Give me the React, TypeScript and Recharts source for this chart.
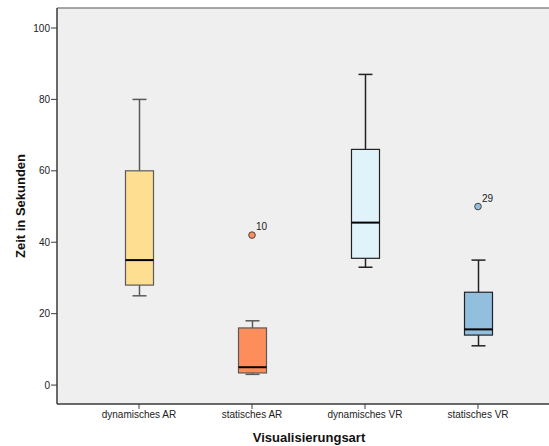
import React from 'react';
import {
  ComposedChart,
  Bar,
  Scatter,
  XAxis,
  YAxis,
  CartesianGrid,
  ReferenceLine,
} from 'recharts';

const categories = ['dynamisches AR', 'statisches AR', 'dynamisches VR', 'statisches VR'];
const whiskerLow = [25, 3, 33, 11];
const q1 = [28, 3.4, 35.5, 14];
const median = [35, 5, 45.5, 15.6];
const q3 = [60, 16, 66, 26];
const whiskerHigh = [80, 18, 87, 35];
const outliers = [null, 42, null, 50];
const outlierLabels = [null, '10', null, '29'];
const yTicks = [0, 20, 40, 60, 80, 100];

const boxFills = ['#fedf92', '#fd8d5b', '#e1f3fa', '#92bfdd'];
const boxStrokes = ['#5a5a5a', '#5a5a5a', '#222222', '#222222'];

const data = categories.map((name, i) => ({
  name,
  low: whiskerLow[i],
  q1: q1[i],
  median: median[i],
  q3: q3[i],
  high: whiskerHigh[i],
  outlier: outliers[i],
  label: outlierLabels[i],
  idx: i,
}));

const BoxShape = (props: any) => {
  const { x, y, width, height, payload } = props;
  const top = Math.min(y, y + height);
  const h = Math.abs(height);
  const unit = h / (payload.high - payload.low);
  const py = (v: number) => top + (payload.high - v) * unit;
  const cx = x + width / 2;
  const stroke = boxStrokes[payload.idx];
  const cap = 7;
  return (
    <g>
      <line x1={cx} x2={cx} y1={py(payload.high)} y2={py(payload.q3)} stroke={stroke} strokeWidth={1.5} />
      <line x1={cx} x2={cx} y1={py(payload.q1)} y2={py(payload.low)} stroke={stroke} strokeWidth={1.5} />
      <line x1={cx - cap} x2={cx + cap} y1={py(payload.high)} y2={py(payload.high)} stroke={stroke} strokeWidth={1.5} />
      <line x1={cx - cap} x2={cx + cap} y1={py(payload.low)} y2={py(payload.low)} stroke={stroke} strokeWidth={1.5} />
      <rect
        x={x}
        y={py(payload.q3)}
        width={width}
        height={py(payload.q1) - py(payload.q3)}
        fill={boxFills[payload.idx]}
        stroke={stroke}
        strokeWidth={1.2}
      />
      <line x1={x} x2={x + width} y1={py(payload.median)} y2={py(payload.median)} stroke="#000" strokeWidth={2} />
    </g>
  );
};

const OutlierShape = (props: any) => {
  const { cx, cy, payload } = props;
  if (payload.outlier == null || cy == null || isNaN(cy)) return null;
  return (
    <g>
      <circle cx={cx} cy={cy} r={3.3} fill={boxFills[payload.idx]} stroke="#444" strokeWidth={1} />
      <text x={cx + 4} y={cy - 5} fontSize={10} fill="#222" fontFamily="Liberation Sans, Arial, sans-serif">
        {payload.label}
      </text>
    </g>
  );
};

const App: React.FC = () => {
  return (
    <div style={{ position: 'fixed', left: 0, top: 0, width: 549, height: 446, overflow: 'hidden', background: '#fff' }}>
      <ComposedChart
        width={549}
        height={446}
        data={data}
        margin={{ top: 8, right: 0, bottom: 0, left: 0 }}
        style={{ fontFamily: 'Liberation Sans, Arial, sans-serif' }}
      >
        <CartesianGrid fill="#efefef" horizontal={false} vertical={false} />
        <ReferenceLine y={105.6} stroke="#8a8a8a" strokeWidth={1.5} />
        <XAxis
          dataKey="name"
          padding={{ left: 25.5, right: 14.5 }}
          height={42}
          tickSize={5}
          tickMargin={2}
          tick={{ fontSize: 10, fill: '#222' }}
          axisLine={{ stroke: '#3a3a3a', strokeWidth: 1.5 }}
          tickLine={{ stroke: '#3a3a3a' }}
          label={{ value: 'Visualisierungsart', position: 'insideBottom', offset: 4, dx: 6, fontSize: 13, fontWeight: 'bold', fill: '#111' }}
        />
        <YAxis
          type="number"
          domain={[-5.3, 105.6]}
          ticks={yTicks}
          width={57}
          tickSize={6}
          tickMargin={1}
          tick={{ fontSize: 10, fill: '#222' }}
          axisLine={{ stroke: '#3a3a3a', strokeWidth: 1.5 }}
          tickLine={{ stroke: '#3a3a3a' }}
          allowDataOverflow
          label={{ value: 'Zeit in Sekunden', angle: -90, position: 'center', dx: -8, fontSize: 13, fontWeight: 'bold', fill: '#111' }}
        />
        <Bar
          dataKey={(d: any) => [d.low, d.high]}
          barSize={28}
          shape={<BoxShape />}
          isAnimationActive={false}
        />
        <Scatter dataKey="outlier" shape={<OutlierShape />} isAnimationActive={false} />
      </ComposedChart>
    </div>
  );
};

export default App;
